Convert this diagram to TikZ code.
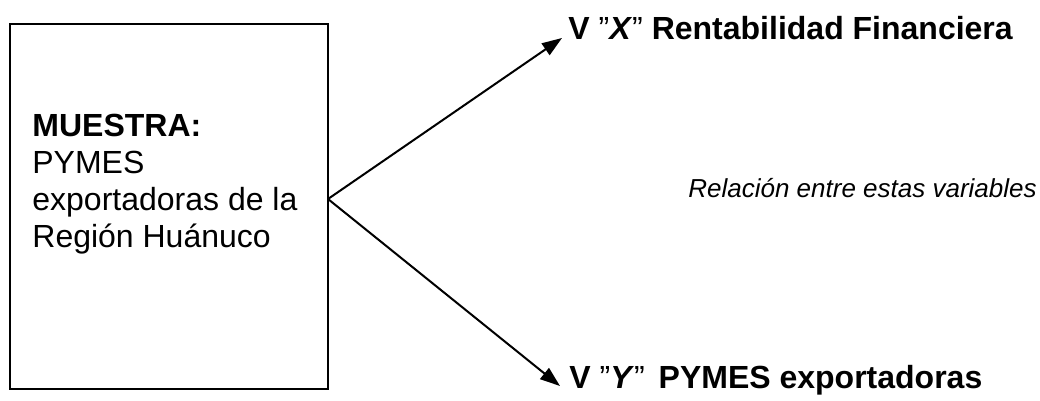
\documentclass[tikz,border=0pt]{standalone}
\usepackage{fontspec}
\setmainfont{Liberation Sans}
\usetikzlibrary{arrows.meta,calc}

\newcommand{\comilla}{{\mdseries ”}}

\tikzset{
  labelvar/.style={anchor=base west, inner sep=0pt, font=\fontsize{16}{18.5}\selectfont\bfseries},
  flecha/.style={line width=1pt, -{Triangle[length=10pt,width=7pt]}},
}

\begin{document}
\begin{tikzpicture}[x=0.5pt,y=-0.5pt]
	\useasboundingbox (0,0) rectangle (1040,401);

	\node[draw, line width=1pt, minimum width=159pt, minimum height=182.5pt, inner sep=0pt] (muestra) at (169,206.5) {};
	\node[anchor=base west, inner sep=0pt, align=left, font=\fontsize{16}{18.5}\selectfont] (texto) at (32,248) {\textbf{MUESTRA:}\\PYMES\\exportadoras de la\\Región Huánuco};

	\coordinate (vertice) at (328,199);

	\node[labelvar] (varx) at (568,40) {V \comilla\textit{X}\comilla{} Rentabilidad Financiera};
	\node[labelvar] (vary) at (569,388) {V \comilla\textit{Y}\comilla\hspace{7pt}PYMES exportadoras};
	\node[anchor=base west, inner sep=0pt, font=\fontsize{13}{15}\selectfont\itshape] (relacion) at (688,198) {Relación entre estas variables};

	\draw[flecha] (vertice) -- ($(varx.base west)+(-6,-2)$);
	\draw[flecha] (vertice) -- ($(vary.base west)+(-9,-2)$);
\end{tikzpicture}
\end{document}
